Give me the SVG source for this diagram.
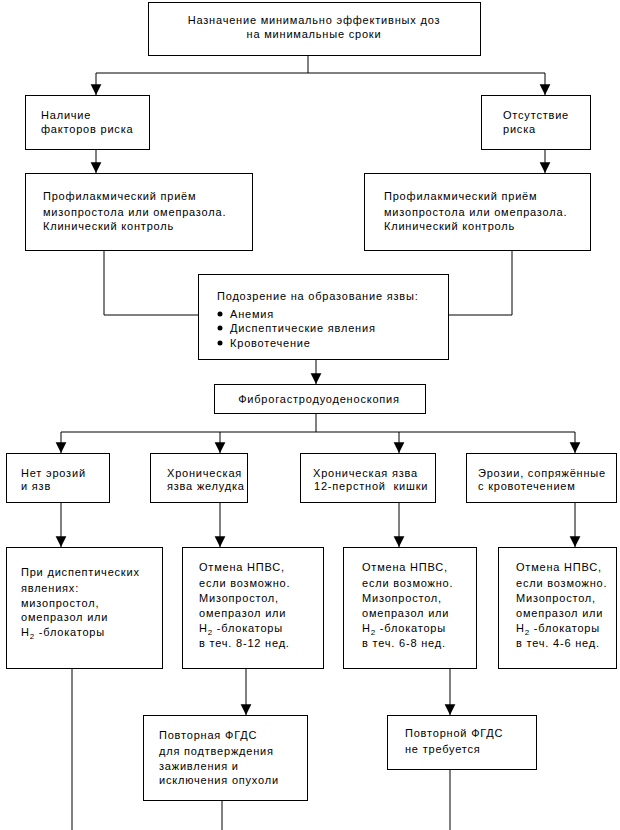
<svg xmlns="http://www.w3.org/2000/svg" width="620" height="830" viewBox="0 0 620 830">
<style>
.b{fill:#fff;stroke:#000;stroke-width:1}
.t{font-family:"Liberation Sans",Arial,sans-serif;font-size:11px;letter-spacing:0.8px;fill:#000}
.c{text-anchor:middle}
.l{fill:none;stroke:#000;stroke-width:1}
.s{font-size:8px}
</style>
<defs>
<marker id="a" markerUnits="userSpaceOnUse" markerWidth="12" markerHeight="12" refX="9" refY="4.5" orient="auto" viewBox="0 0 10 9">
<path d="M0,0 L9,4.5 L0,9 z" fill="#000"/>
</marker>
</defs>
<rect width="620" height="830" fill="#fff"/>
<g id="connectors">
<path class="l" d="M308,55 V73 M96,73 H545"/>
<path class="l" d="M96,73 V95" marker-end="url(#a)"/>
<path class="l" d="M545,73 V95" marker-end="url(#a)"/>
<path class="l" d="M96,149 V173" marker-end="url(#a)"/>
<path class="l" d="M545,149 V173" marker-end="url(#a)"/>
<path class="l" d="M104,250 V315 H198"/>
<path class="l" d="M512,250 V315 H448"/>
<path class="l" d="M316,359 V384" marker-end="url(#a)"/>
<path class="l" d="M316,413 V432 M61,432 H575"/>
<path class="l" d="M61,432 V453" marker-end="url(#a)"/>
<path class="l" d="M220,432 V453" marker-end="url(#a)"/>
<path class="l" d="M399,432 V453" marker-end="url(#a)"/>
<path class="l" d="M575,432 V453" marker-end="url(#a)"/>
<path class="l" d="M61,502 V547" marker-end="url(#a)"/>
<path class="l" d="M220,502 V547" marker-end="url(#a)"/>
<path class="l" d="M399,502 V547" marker-end="url(#a)"/>
<path class="l" d="M575,502 V547" marker-end="url(#a)"/>
<path class="l" d="M72,668 V830"/>
<path class="l" d="M246,668 V715" marker-end="url(#a)"/>
<path class="l" d="M450,668 V715" marker-end="url(#a)"/>
<path class="l" d="M222,800 V830"/>
<path class="l" d="M450,769 V830"/>
</g>
<g id="n_top">
<rect class="b" x="148.5" y="2.5" width="332" height="53"/>
<text class="t c" x="314" y="24">Назначение минимально эффективных доз</text>
<text class="t c" x="314" y="38">на минимальные сроки</text>
</g>
<g id="n_risk">
<rect class="b" x="25.5" y="95.5" width="124" height="54"/>
<text class="t" x="41" y="119">Наличие</text>
<text class="t" x="41" y="133">факторов риска</text>
</g>
<g id="n_norisk">
<rect class="b" x="481.5" y="95.5" width="109" height="54"/>
<text class="t" x="503" y="119">Отсутствие</text>
<text class="t" x="503" y="133">риска</text>
</g>
<g id="n_prof_l">
<rect class="b" x="25.5" y="173.5" width="227" height="77"/>
<text class="t" x="43" y="200">Профилакмический приём</text>
<text class="t" x="43" y="216">мизопростола или омепразола.</text>
<text class="t" x="43" y="230">Клинический контроль</text>
</g>
<g id="n_prof_r">
<rect class="b" x="364.5" y="173.5" width="226" height="77"/>
<text class="t" x="384" y="200">Профилакмический приём</text>
<text class="t" x="384" y="216">мизопростола или омепразола.</text>
<text class="t" x="384" y="230">Клинический контроль</text>
</g>
<g id="n_susp">
<rect class="b" x="198.5" y="274.5" width="250" height="85"/>
<text class="t" x="217" y="300">Подозрение на образование язвы:</text>
<circle cx="220" cy="314" r="2.5"/>
<text class="t" x="230" y="318">Анемия</text>
<circle cx="220" cy="328" r="2.5"/>
<text class="t" x="230" y="332">Диспептические явления</text>
<circle cx="220" cy="343" r="2.5"/>
<text class="t" x="230" y="347">Кровотечение</text>
</g>
<g id="n_fgds">
<rect class="b" x="214.5" y="384.5" width="211" height="29"/>
<text class="t c" x="319" y="403">Фиброгастродуоденоскопия</text>
</g>
<g id="n_none">
<rect class="b" x="6.5" y="453.5" width="103" height="49"/>
<text class="t" x="21" y="477">Нет эрозий</text>
<text class="t" x="21" y="490">и язв</text>
</g>
<g id="n_stom">
<rect class="b" x="150.5" y="453.5" width="97" height="49"/>
<text class="t" x="167" y="477">Хроническая</text>
<text class="t" x="167" y="490">язва желудка</text>
</g>
<g id="n_duod">
<rect class="b" x="300.5" y="453.5" width="135" height="49"/>
<text class="t" x="313" y="477">Хроническая язва</text>
<text class="t" x="314" y="490" xml:space="preserve" style="white-space:pre">12-перстной  кишки</text>
</g>
<g id="n_eros">
<rect class="b" x="466.5" y="453.5" width="150" height="49"/>
<text class="t" x="478" y="477">Эрозии, сопряжённые</text>
<text class="t" x="478" y="490">с кровотечением</text>
</g>
<g id="n_t1">
<rect class="b" x="6.5" y="547.5" width="156" height="121"/>
<text class="t" x="21" y="576">При диспептических</text>
<text class="t" x="21" y="592">явлениях:</text>
<text class="t" x="21" y="607">мизопростол,</text>
<text class="t" x="21" y="621">омепразол или</text>
<text class="t" x="21" y="636">H<tspan class="s" dy="3">2</tspan><tspan dy="-3"> -блокаторы</tspan></text>
</g>
<g id="n_t2">
<rect class="b" x="182.5" y="547.5" width="141" height="121"/>
<text class="t" x="199" y="571">Отмена НПВС,</text>
<text class="t" x="199" y="587">если возможно.</text>
<text class="t" x="199" y="602">Мизопростол,</text>
<text class="t" x="199" y="617">омепразол или</text>
<text class="t" x="199" y="632">H<tspan class="s" dy="3">2</tspan><tspan dy="-3"> -блокаторы</tspan></text>
<text class="t" x="199" y="647">в теч. 8-12 нед.</text>
</g>
<g id="n_t3">
<rect class="b" x="343.5" y="547.5" width="133" height="121"/>
<text class="t" x="362" y="571">Отмена НПВС,</text>
<text class="t" x="362" y="587">если возможно.</text>
<text class="t" x="362" y="602">Мизопростол,</text>
<text class="t" x="362" y="617">омепразол или</text>
<text class="t" x="362" y="632">H<tspan class="s" dy="3">2</tspan><tspan dy="-3"> -блокаторы</tspan></text>
<text class="t" x="362" y="647">в теч. 6-8 нед.</text>
</g>
<g id="n_t4">
<rect class="b" x="498.5" y="547.5" width="118" height="121"/>
<text class="t" x="516" y="571">Отмена НПВС,</text>
<text class="t" x="516" y="587">если возможно.</text>
<text class="t" x="516" y="602">Мизопростол,</text>
<text class="t" x="516" y="617">омепразол или</text>
<text class="t" x="516" y="632">H<tspan class="s" dy="3">2</tspan><tspan dy="-3"> -блокаторы</tspan></text>
<text class="t" x="516" y="647">в теч. 4-6 нед.</text>
</g>
<g id="n_rep">
<rect class="b" x="143.5" y="715.5" width="164" height="85"/>
<text class="t" x="159" y="739">Повторная ФГДС</text>
<text class="t" x="159" y="755">для подтверждения</text>
<text class="t" x="159" y="770">заживления и</text>
<text class="t" x="159" y="784">исключения опухоли</text>
</g>
<g id="n_norep">
<rect class="b" x="387.5" y="715.5" width="149" height="54"/>
<text class="t" x="405" y="737">Повторной ФГДС</text>
<text class="t" x="405" y="753">не требуется</text>
</g>
</svg>
